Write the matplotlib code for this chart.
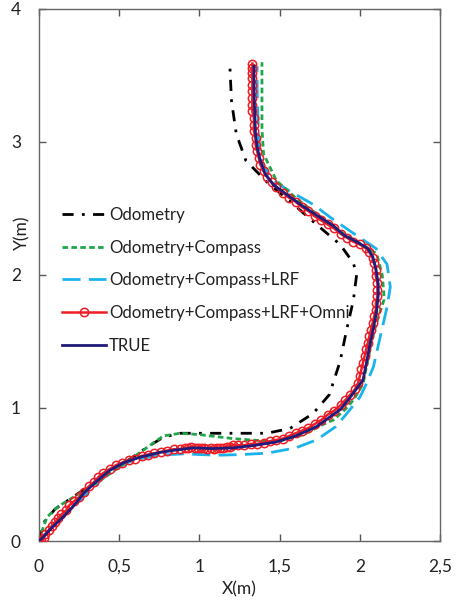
import numpy as np
import matplotlib
matplotlib.use("Agg")
import matplotlib.pyplot as plt
from matplotlib.ticker import FuncFormatter

# trajectories (x, y in metres)
odo_x = [0, 0.03, 0.10, 0.235, 0.40, 0.547, 0.68, 0.775, 0.88, 1.0, 1.2, 1.42, 1.565, 1.71, 1.81,
         1.877, 1.92, 1.96, 1.98, 1.96, 1.877, 1.73, 1.56, 1.42, 1.29, 1.23, 1.20, 1.19]
odo_y = [0, 0.14, 0.24, 0.35, 0.48, 0.60, 0.71, 0.78, 0.81, 0.81, 0.81, 0.81, 0.846, 0.96, 1.10,
         1.35, 1.60, 1.81, 2.0, 2.09, 2.23, 2.38, 2.56, 2.70, 2.86, 3.06, 3.31, 3.57]

comp_x = [0, 0.02, 0.05, 0.12, 0.235, 0.40, 0.547, 0.67, 0.775, 0.88, 1.0, 1.21, 1.48, 1.65, 1.76,
          1.835, 1.91, 1.96, 2.02, 2.05, 2.085, 2.12, 2.15, 2.15, 2.14, 2.105, 2.04, 1.90, 1.73, 1.60,
          1.48, 1.40, 1.39, 1.39, 1.39]
comp_y = [0, 0.08, 0.18, 0.26, 0.345, 0.47, 0.595, 0.70, 0.79, 0.81, 0.80, 0.77, 0.745, 0.80, 0.87,
          0.91, 0.99, 1.06, 1.18, 1.36, 1.56, 1.70, 1.81, 1.86, 2.0, 2.16, 2.21, 2.31, 2.46, 2.58,
          2.71, 2.91, 3.10, 3.31, 3.60]

lrf_x = [0, 0.10, 0.25, 0.44, 0.59, 0.75, 0.90, 1.11, 1.26, 1.42, 1.60, 1.73, 1.85, 1.92, 2.0, 2.04,
         2.085, 2.13, 2.17, 2.19, 2.17, 2.10, 1.94, 1.82, 1.71, 1.55, 1.45, 1.39, 1.37, 1.365, 1.36, 1.36]
lrf_y = [0, 0.13, 0.30, 0.52, 0.61, 0.645, 0.655, 0.645, 0.65, 0.66, 0.70, 0.76, 0.86, 0.96, 1.08, 1.18,
         1.31, 1.55, 1.76, 1.91, 2.08, 2.20, 2.33, 2.43, 2.53, 2.64, 2.72, 2.85, 3.0, 3.2, 3.4, 3.57]

omni_x = [0.00, 0.01, 0.03, 0.04, 0.06, 0.08, 0.10, 0.12, 0.14, 0.17, 0.19, 0.22, 0.25, 0.28, 0.31,
          0.34, 0.37, 0.40, 0.44, 0.48, 0.52, 0.56, 0.60, 0.64, 0.68, 0.72, 0.76, 0.80, 0.84, 0.88,
          0.91, 0.93, 0.95, 0.97, 0.99, 1.01, 1.03, 1.05, 1.07, 1.09, 1.11, 1.13, 1.15, 1.17, 1.19,
          1.21, 1.24, 1.28, 1.32, 1.36, 1.40, 1.44, 1.48, 1.52, 1.56, 1.60, 1.64, 1.68, 1.72, 1.76,
          1.80, 1.84, 1.88, 1.91, 1.94, 1.97, 1.99, 2.00, 2.01, 2.02, 2.03, 2.04, 2.05, 2.06, 2.07,
          2.08, 2.09, 2.10, 2.10, 2.11, 2.11, 2.11, 2.10, 2.10, 2.09, 2.08, 2.06, 2.04, 2.00, 1.96,
          1.92, 1.88, 1.84, 1.80, 1.76, 1.72, 1.68, 1.64, 1.60, 1.56, 1.52, 1.48, 1.45, 1.42, 1.40,
          1.38, 1.37, 1.36, 1.35, 1.35, 1.34, 1.34, 1.34, 1.33, 1.33, 1.33, 1.33, 1.33, 1.33, 1.33,
          1.33, 1.33]
omni_y = [0.00, 0.00, 0.02, 0.05, 0.08, 0.11, 0.14, 0.17, 0.20, 0.23, 0.27, 0.30, 0.33, 0.37, 0.41,
          0.44, 0.48, 0.51, 0.54, 0.57, 0.59, 0.61, 0.62, 0.64, 0.65, 0.66, 0.67, 0.68, 0.69, 0.69,
          0.70, 0.70, 0.71, 0.70, 0.70, 0.70, 0.70, 0.69, 0.70, 0.69, 0.70, 0.70, 0.70, 0.71, 0.71,
          0.72, 0.72, 0.72, 0.73, 0.73, 0.74, 0.75, 0.76, 0.77, 0.79, 0.81, 0.83, 0.85, 0.88, 0.91,
          0.95, 0.98, 1.02, 1.06, 1.10, 1.14, 1.19, 1.24, 1.29, 1.34, 1.39, 1.44, 1.49, 1.54, 1.59,
          1.64, 1.69, 1.74, 1.79, 1.84, 1.89, 1.94, 1.99, 2.04, 2.09, 2.13, 2.17, 2.20, 2.23, 2.25,
          2.28, 2.31, 2.35, 2.38, 2.41, 2.44, 2.48, 2.51, 2.55, 2.58, 2.62, 2.66, 2.70, 2.74, 2.78,
          2.83, 2.88, 2.93, 2.98, 3.03, 3.08, 3.13, 3.18, 3.23, 3.28, 3.33, 3.38, 3.43, 3.48, 3.52,
          3.56, 3.59]

true_x = [0, 0.027, 0.08, 0.15, 0.22, 0.28, 0.36, 0.44, 0.53, 0.63, 0.75, 0.86, 0.96, 1.08, 1.21,
          1.35, 1.48, 1.60, 1.73, 1.81, 1.88, 1.94, 2.02, 2.04, 2.06, 2.085, 2.105, 2.115, 2.115,
          2.10, 2.08, 2.05, 1.98, 1.90, 1.835, 1.73, 1.63, 1.54, 1.46, 1.41, 1.38, 1.36, 1.35,
          1.345, 1.34, 1.34]
true_y = [0, 0.03, 0.10, 0.18, 0.27, 0.36, 0.45, 0.53, 0.59, 0.63, 0.665, 0.685, 0.70, 0.695, 0.70,
          0.72, 0.745, 0.79, 0.86, 0.93, 0.99, 1.08, 1.21, 1.33, 1.46, 1.60, 1.73, 1.85, 1.93,
          2.05, 2.14, 2.20, 2.25, 2.30, 2.37, 2.45, 2.53, 2.61, 2.68, 2.76, 2.86, 2.96, 3.06,
          3.2, 3.4, 3.57]

x_ticks = [0, 0.5, 1, 1.5, 2, 2.5]
y_ticks = [0, 1, 2, 3, 4]

plt.rcParams['font.family'] = ['Lato', 'DejaVu Sans']
plt.rcParams['font.size'] = 12.5
txt = '#222222'

fig = plt.figure(figsize=(4.62, 6), dpi=100)
ax = fig.add_axes([39 / 462, 59 / 600, 401 / 462, 532 / 600])

ax.plot(odo_x, odo_y, color='black', lw=2, ls=(0, (4, 3, 1, 3)), label='Odometry', zorder=2)
ax.plot(comp_x, comp_y, color='#1fa64a', lw=2, ls=(0, (2, 1.2)), label='Odometry+Compass', zorder=3)
ax.plot(lrf_x, lrf_y, color='#1ab3ec', lw=2, ls=(0, (6.5, 3)), label='Odometry+Compass+LRF', zorder=2)
ax.plot(omni_x, omni_y, color='#ee1c24', lw=1.8, marker='o', ms=6, mfc='none', mec='#ee1c24',
        mew=1.1, label='Odometry+Compass+LRF+Omni', zorder=4)
ax.plot(true_x, true_y, color='#201c7c', lw=2, label='TRUE', zorder=5)

ax.set_xlim(0, 2.5)
ax.set_ylim(0, 4)
ax.set_xticks(x_ticks)
ax.set_yticks(y_ticks)
ax.xaxis.set_major_formatter(FuncFormatter(lambda v, p: ('%g' % v).replace('.', ',')))
ax.tick_params(direction='in', length=5, width=1, color='#555555', top=True, right=True,
               labelcolor=txt, labelsize=12.5, pad=13)
for s in ax.spines.values():
    s.set_color('#666666')
    s.set_linewidth(1)

ax.set_xlabel('X(m)', color=txt, fontsize=12.5)
ax.set_ylabel('Y(m)', color=txt, fontsize=12.5)
ax.xaxis.set_label_coords(0.5, -0.075)
ax.yaxis.set_label_coords(-0.022, 0.58)

leg = ax.legend(loc='center left', bbox_to_anchor=(0.057, 0.49), frameon=False, fontsize=12.1,
                borderpad=0, borderaxespad=0, handlelength=2.6, handletextpad=0.2,
                labelspacing=1.0, numpoints=1)
for t in leg.get_texts():
    t.set_color(txt)

fig.savefig('out.png', dpi=100)
